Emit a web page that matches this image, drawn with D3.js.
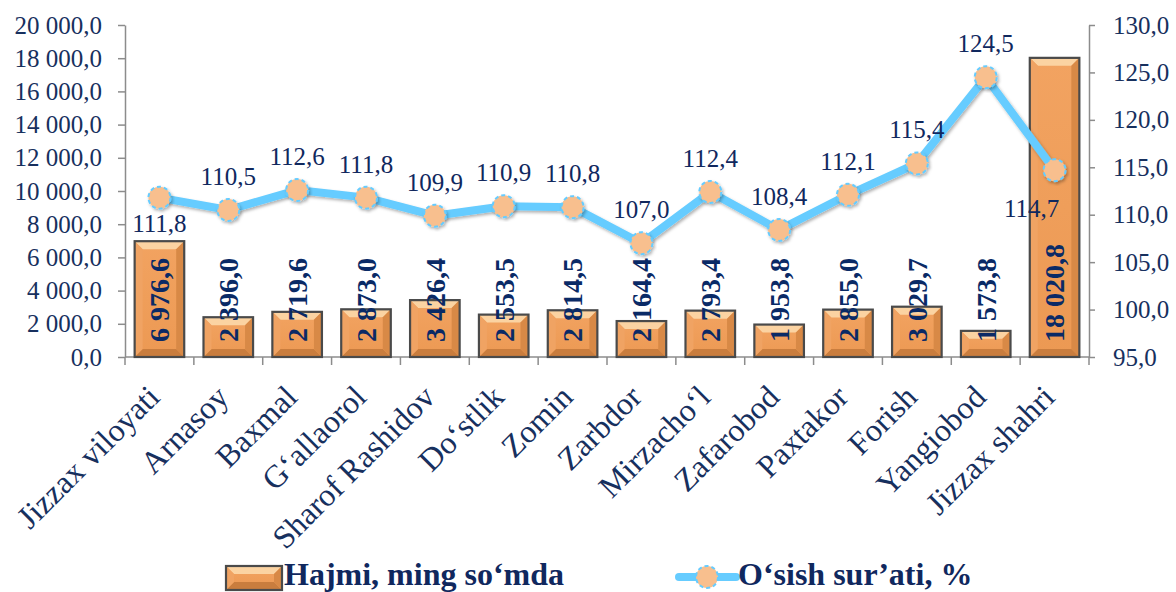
<!DOCTYPE html>
<html><head><meta charset="utf-8">
<script src="https://cdn.jsdelivr.net/npm/d3@7"></script>
<style>body{margin:0;background:#fff} svg{display:block}</style>
</head><body><svg id="chart" width="1176" height="592"></svg>
<script>
const categories = ["Jizzax viloyati","Arnasoy","Baxmal","G‘allaorol","Sharof Rashidov","Do‘stlik","Zomin","Zarbdor","Mirzacho‘l","Zafarobod","Paxtakor","Forish","Yangiobod","Jizzax shahri"];
const volume = [6976.6, 2396.0, 2719.6, 2873.0, 3426.4, 2553.5, 2814.5, 2164.4, 2793.4, 1953.8, 2855.0, 3029.7, 1573.8, 18020.8];
const growth = [111.8, 110.5, 112.6, 111.8, 109.9, 110.9, 110.8, 107.0, 112.4, 108.4, 112.1, 115.4, 124.5, 114.7];
const leftTicks = [0, 2000, 4000, 6000, 8000, 10000, 12000, 14000, 16000, 18000, 20000];
const rightTicks = [95, 100, 105, 110, 115, 120, 125, 130];
const seriesNames = ["Hajmi, ming so‘mda", "O‘sish sur’ati, %"];
const growthLabelPlacement = ["below","above","above","above","above","above","above","above","above","above","above","above","above","belowLeft"];

const FONT = "'Liberation Serif','Times New Roman',serif";
const NAVY = "#17305E";
const LABEL_NAVY = "#0A2A66";
const AXIS_GRAY = "#8C8C8C";
const LINE_BLUE = "#66CCFF";
const MARKER_FILL = "#F8BF8E";

const svg = d3.select("#chart");
const plot = {left: 125, right: 1089, top: 25, bottom: 357};

const locale = d3.formatLocale({decimal: ",", thousands: "\u00a0", grouping: [3], currency: ["", ""]});
const fmtBig = locale.format(",.1f");
const fmtSmall = locale.format(".1f");

const x = d3.scaleBand(categories, [plot.left, plot.right]).paddingInner(0.28).paddingOuter(0.14);
const y0 = d3.scaleLinear([0, 20000], [plot.bottom, plot.top]);
const y1 = d3.scaleLinear([95, 130], [plot.bottom, plot.top]);

const defs = svg.append("defs");
const g1 = defs.append("linearGradient").attr("id","barBody").attr("x1",0).attr("x2",0).attr("y1",0).attr("y2",1);
g1.append("stop").attr("offset","0%").attr("stop-color","#F2A361");
g1.append("stop").attr("offset","100%").attr("stop-color","#EC9953");
const sh = defs.append("filter").attr("id","shadow").attr("x","-20%").attr("y","-20%").attr("width","140%").attr("height","140%");
sh.append("feDropShadow").attr("dx",1.5).attr("dy",2).attr("stdDeviation",1.5).attr("flood-color","#000").attr("flood-opacity",0.3);

function bevelBar(g, bx, by, bw, bh) {
  const b = Math.min(8, bh / 3, bw / 4);
  g.append("rect").attr("x", bx).attr("y", by).attr("width", bw).attr("height", bh)
    .attr("fill", "url(#barBody)");
  g.append("path").attr("d", `M${bx},${by}L${bx+bw},${by}L${bx+bw-b},${by+b}L${bx+b},${by+b}Z`).attr("fill", "#FBD3A2");
  g.append("path").attr("d", `M${bx},${by+bh}L${bx+bw},${by+bh}L${bx+bw-b},${by+bh-b}L${bx+b},${by+bh-b}Z`).attr("fill", "#C97D3E");
  g.append("path").attr("d", `M${bx},${by}L${bx+b},${by+b}L${bx+b},${by+bh-b}L${bx},${by+bh}Z`).attr("fill", "#F0A363");
  g.append("path").attr("d", `M${bx+bw},${by}L${bx+bw-b},${by+b}L${bx+bw-b},${by+bh-b}L${bx+bw},${by+bh}Z`).attr("fill", "#D88946");
  g.append("rect").attr("x", bx).attr("y", by).attr("width", bw).attr("height", bh)
    .attr("fill", "none").attr("stroke", "#4A4A4A").attr("stroke-width", 2.2);
}

// Left axis
const axL = svg.append("g").attr("transform", `translate(${plot.left},0)`)
  .call(d3.axisLeft(y0).tickValues(leftTicks).tickSize(7).tickSizeOuter(0).tickPadding(16).tickFormat(fmtBig));
// Right axis
const axR = svg.append("g").attr("transform", `translate(${plot.right},0)`)
  .call(d3.axisRight(y1).tickValues(rightTicks).tickSize(6).tickSizeOuter(0).tickPadding(18).tickFormat(fmtSmall));
[axL, axR].forEach(a => {
  a.select(".domain").attr("stroke", AXIS_GRAY).attr("stroke-width", 1.5);
  a.selectAll(".tick line").attr("stroke", AXIS_GRAY).attr("stroke-width", 1.5);
  a.selectAll(".tick text").attr("fill", NAVY).style("font-family", FONT).style("font-size", "25px");
});

// X axis line and boundary ticks
const step = x.step();
const bounds = d3.range(categories.length + 1).map(i => plot.left + i * step);
const xAxisG = svg.append("g");
xAxisG.append("line").attr("x1", plot.left).attr("x2", plot.right).attr("y1", plot.bottom).attr("y2", plot.bottom)
  .attr("stroke", AXIS_GRAY).attr("stroke-width", 1.5);
xAxisG.selectAll("line.tk").data(bounds).join("line").attr("class","tk")
  .attr("x1", d => d).attr("x2", d => d).attr("y1", plot.bottom).attr("y2", plot.bottom + 8)
  .attr("stroke", AXIS_GRAY).attr("stroke-width", 1.5);
xAxisG.selectAll("text").data(categories).join("text")
  .attr("transform", d => `translate(${x(d) + x.bandwidth()/2 + 2},${plot.bottom + 42}) rotate(-45)`)
  .attr("text-anchor", "end")
  .attr("fill", NAVY).style("font-family", FONT).style("font-size", "32px")
  .text(d => d);

// Bars
const barsG = svg.append("g");
categories.forEach((c, i) => {
  bevelBar(barsG.append("g"), x(c), y0(volume[i]), x.bandwidth(), y0(0) - y0(volume[i]));
});
// Bar labels
svg.append("g").selectAll("text").data(categories).join("text")
  .attr("transform", d => `translate(${x(d) + x.bandwidth()/2},${plot.bottom - 15}) rotate(-90)`)
  .attr("dy", "0.35em")
  .attr("text-anchor", "start")
  .attr("fill", LABEL_NAVY).style("font-family", FONT).style("font-size", "28px").style("font-weight", "bold")
  .text((d, i) => fmtBig(volume[i]));

// Line
const cx = d => x(d) + x.bandwidth()/2;
const line = d3.line().x((d, i) => cx(categories[i])).y(d => y1(d));
svg.append("path").datum(growth).attr("d", line)
  .attr("fill", "none").attr("stroke", LINE_BLUE).attr("stroke-width", 8).attr("stroke-linejoin", "round")
  .attr("filter", "url(#shadow)");
svg.append("g").selectAll("circle").data(growth).join("circle")
  .attr("cx", (d, i) => cx(categories[i])).attr("cy", d => y1(d)).attr("r", 11)
  .attr("fill", MARKER_FILL).attr("stroke", LINE_BLUE).attr("stroke-width", 2).attr("stroke-dasharray", "4,3")
  .attr("filter", "url(#shadow)");
// Line labels
svg.append("g").selectAll("text").data(growth).join("text")
  .attr("x", (d, i) => cx(categories[i]) + (growthLabelPlacement[i] === "belowLeft" ? -23 : 0))
  .attr("y", (d, i) => y1(d) + (growthLabelPlacement[i] === "above" ? -25 : growthLabelPlacement[i] === "below" ? 34 : 47))
  .attr("text-anchor", "middle")
  .attr("fill", "#10285E").style("font-family", FONT).style("font-size", "25px")
  .text(d => fmtSmall(d));

// Legend
const leg = svg.append("g");
bevelBar(leg.append("g"), 226, 566, 56, 24);
leg.append("text").attr("x", 284).attr("y", 585).text(seriesNames[0])
  .attr("fill", "#10285E").style("font-family", FONT).style("font-size", "32px").style("font-weight", "bold");
leg.append("line").attr("x1", 679).attr("x2", 736).attr("y1", 577).attr("y2", 577)
  .attr("stroke", LINE_BLUE).attr("stroke-width", 8).attr("stroke-linecap", "round");
leg.append("circle").attr("cx", 707).attr("cy", 577).attr("r", 11)
  .attr("fill", MARKER_FILL).attr("stroke", LINE_BLUE).attr("stroke-width", 2).attr("stroke-dasharray", "4,3");
leg.append("text").attr("x", 738).attr("y", 585).text(seriesNames[1])
  .attr("fill", "#10285E").style("font-family", FONT).style("font-size", "32px").style("font-weight", "bold");
</script></body></html>
